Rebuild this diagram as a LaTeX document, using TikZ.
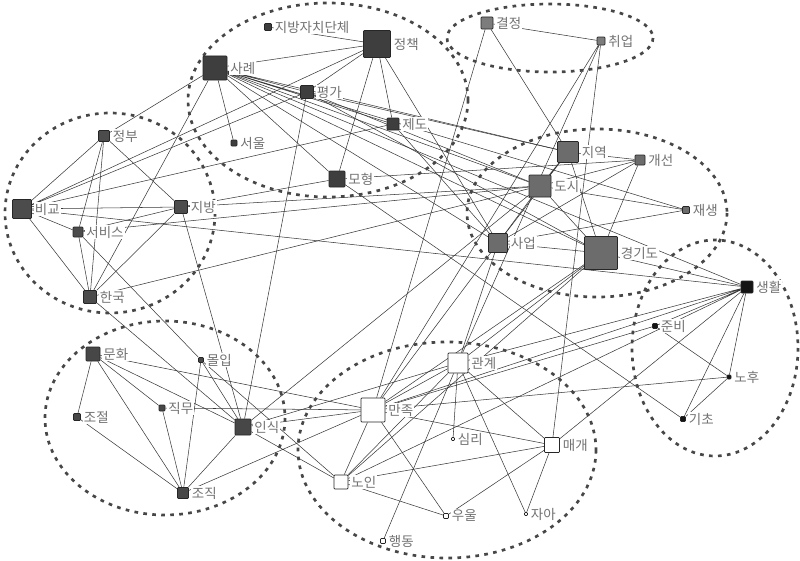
\documentclass[tikz,border=0pt]{standalone}
\usepackage{fontspec}
\setmainfont{Noto Sans CJK KR}
\usetikzlibrary{backgrounds}
\definecolor{policydark}{HTML}{3E3E3E}
\definecolor{compdark}{HTML}{4C4C4C}
\definecolor{orgdark}{HTML}{474747}
\definecolor{citygray}{HTML}{6C6C6C}
\definecolor{jobgray}{HTML}{7C7C7C}
\definecolor{lifeblack}{HTML}{141414}
\definecolor{labelgray}{HTML}{727272}

\begin{document}
\begin{tikzpicture}[
    x=0.03cm, y=-0.03cm,
    term/.style={draw=black!85, line width=0.65pt, rounded corners=0.25mm, inner sep=0pt, minimum size=#1*0.3mm},
    policy/.style={fill=policydark},
    comp/.style={fill=compdark},
    org/.style={fill=orgdark},
    city/.style={fill=citygray},
    job/.style={fill=jobgray},
    life/.style={fill=lifeblack},
    elder/.style={fill=white},
    edge/.style={draw=black!78, line width=0.45pt},
    group/.style={draw=black!72, line width=2.3pt, dash pattern=on 1.1mm off 1.6mm},
    every label/.style={text=labelgray, fill=white, font=\fontsize{11.5}{13}\selectfont, inner sep=0.35mm},
    label distance=0.5mm
]
\useasboundingbox (0,0) rectangle (800,561);

% policy cluster
\node[term=7, policy, label=right:지방자치단체] (jachi) at (268,27) {};
\node[term=27, policy, label=right:정책] (jeongchaek) at (377,44) {};
\node[term=24, policy, label=right:사례] (sarye) at (215,68) {};
\node[term=13, policy, label=right:평가] (pyeongga) at (307,92) {};
\node[term=6, policy, label=right:서울] (seoul) at (234,143) {};
\node[term=12, policy, label=right:제도] (jedo) at (393,124) {};
\node[term=16, policy, label=right:모형] (mohyeong) at (337,179) {};

% job cluster
\node[term=12, job, label=right:결정] (gyeoljeong) at (487,23) {};
\node[term=8, job, label=right:취업] (chwieop) at (601,41) {};

% comparison cluster
\node[term=11, comp, label=right:정부] (jeongbu) at (104,136) {};
\node[term=19, comp, label=right:비교] (bigyo) at (22,209) {};
\node[term=13, comp, label=right:지방] (jibang) at (181,207) {};
\node[term=10, comp, label=right:서비스] (service) at (78,232) {};
\node[term=13, comp, label=right:한국] (hanguk) at (90,297) {};

% city cluster
\node[term=21, city, label=right:지역] (jiyeok) at (568,152) {};
\node[term=10, city, label=right:개선] (gaeseon) at (640,160) {};
\node[term=22, city, label=right:도시] (dosi) at (540,186) {};
\node[term=7, city, label=right:재생] (jaesaeng) at (686,210) {};
\node[term=19, city, label=right:사업] (saeop) at (498,243) {};
\node[term=33, city, label=right:경기도] (gyeonggi) at (601,253) {};

% life cluster
\node[term=12, life, label=right:생활] (saenghwal) at (747,287) {};
\node[term=5, life, label=right:준비] (junbi) at (655,326) {};
\node[term=4, life, label=right:노후] (nohu) at (729,377) {};
\node[term=5, life, label=right:기초] (gicho) at (683,419) {};

% organisation cluster
\node[term=14, org, label=right:문화] (munhwa) at (93,354) {};
\node[term=5, org, label=right:몰입] (molip) at (201,360) {};
\node[term=7, org, label=right:조절] (jojeol) at (77,417) {};
\node[term=6, org, label=right:직무] (jikmu) at (162,408) {};
\node[term=16, org, label=right:인식] (insik) at (243,427) {};
\node[term=11, org, label=right:조직] (jojik) at (183,493) {};

% elderly cluster
\node[term=20, elder, label=right:관계] (gwangye) at (458,363) {};
\node[term=24, elder, label=right:만족] (manjok) at (373,410) {};
\node[term=3, elder, label=right:심리] (simri) at (453,439) {};
\node[term=15, elder, label=right:매개] (maegae) at (552,445) {};
\node[term=14, elder, label=right:노인] (noin) at (341,482) {};
\node[term=5, elder, label=right:우울] (uul) at (446,516) {};
\node[term=3, elder, label=right:자아] (jaa) at (526,514) {};
\node[term=5, elder, label=right:행동] (haengdong) at (383,541) {};

\begin{scope}[on background layer]
\draw[edge] (sarye) -- (jeongchaek) (sarye) -- (pyeongga) (sarye) -- (jedo) (sarye) -- (seoul) (sarye) -- (mohyeong)
  (sarye) -- (jeongbu) (sarye) -- (hanguk) (sarye) -- (jiyeok) (sarye) -- (dosi) (sarye) -- (gyeonggi)
  (sarye) -- (saeop) (sarye) -- (jaesaeng) (sarye) -- (saenghwal);
\draw[edge] (jeongchaek) -- (pyeongga) (jeongchaek) -- (jedo) (jeongchaek) -- (mohyeong) (jeongchaek) -- (jachi) (jeongchaek) -- (saeop);
\draw[edge] (pyeongga) -- (jiyeok) (pyeongga) -- (dosi) (pyeongga) -- (gyeonggi) (pyeongga) -- (insik);
\draw[edge] (jedo) -- (saeop) (mohyeong) -- (gicho) (mohyeong) -- (gaeseon);
\draw[edge] (bigyo) -- (jeongchaek) (bigyo) -- (pyeongga) (bigyo) -- (jedo) (bigyo) -- (saenghwal)
  (bigyo) -- (jeongbu) (bigyo) -- (jibang) (bigyo) -- (service) (bigyo) -- (hanguk);
\draw[edge] (jeongbu) -- (service) (jeongbu) -- (hanguk) (jeongbu) -- (jibang);
\draw[edge] (jibang) -- (service) (jibang) -- (hanguk) (jibang) -- (mohyeong) (jibang) -- (insik) (jibang) -- (dosi);
\draw[edge] (service) -- (hanguk) (service) -- (dosi) (service) -- (molip) (hanguk) -- (dosi) (hanguk) -- (insik);
\draw[edge] (jiyeok) -- (gaeseon) (jiyeok) -- (dosi) (jiyeok) -- (gyeonggi) (jiyeok) -- (saeop);
\draw[edge] (dosi) -- (gaeseon) (dosi) -- (jaesaeng) (dosi) -- (saeop) (dosi) -- (gyeonggi) (dosi) -- (insik);
\draw[edge] (saeop) -- (jaesaeng) (saeop) -- (gyeonggi) (saeop) -- (gaeseon) (saeop) -- (gwangye) (saeop) -- (manjok);
\draw[edge] (gyeonggi) -- (gaeseon) (gyeonggi) -- (saenghwal) (gyeonggi) -- (manjok) (gyeonggi) -- (gwangye) (gyeonggi) -- (noin);
\draw[edge] (gyeoljeong) -- (jiyeok) (gyeoljeong) -- (chwieop) (gyeoljeong) -- (manjok);
\draw[edge] (chwieop) -- (maegae) (chwieop) -- (gwangye) (chwieop) -- (manjok);
\draw[edge] (saenghwal) -- (junbi) (saenghwal) -- (nohu) (saenghwal) -- (gicho) (saenghwal) -- (gwangye)
  (saenghwal) -- (manjok) (saenghwal) -- (noin) (saenghwal) -- (maegae);
\draw[edge] (junbi) -- (nohu) (junbi) -- (manjok) (nohu) -- (gicho) (nohu) -- (manjok);
\draw[edge] (munhwa) -- (jojeol) (munhwa) -- (jikmu) (munhwa) -- (jojik) (munhwa) -- (insik) (munhwa) -- (manjok);
\draw[edge] (jojeol) -- (jojik) (jikmu) -- (jojik) (jikmu) -- (manjok);
\draw[edge] (molip) -- (jojik) (molip) -- (insik) (molip) -- (noin);
\draw[edge] (insik) -- (jojik) (insik) -- (manjok) (insik) -- (noin) (insik) -- (gwangye) (jojik) -- (manjok);
\draw[edge] (gwangye) -- (manjok) (gwangye) -- (simri) (gwangye) -- (maegae) (gwangye) -- (jaa) (gwangye) -- (noin) (gwangye) -- (haengdong);
\draw[edge] (manjok) -- (noin) (manjok) -- (uul) (manjok) -- (maegae);
\draw[edge] (noin) -- (maegae) (noin) -- (uul) (maegae) -- (uul) (maegae) -- (jaa);

% cluster outlines
\draw[group] (328,100) ellipse [x radius=140, y radius=97];
\draw[group] (550,38) ellipse [x radius=103, y radius=34];
\draw[group] (110,213) ellipse [x radius=105, y radius=100];
\draw[group] (597,213) ellipse [x radius=130, y radius=84];
\draw[group] (715,348) ellipse [x radius=83, y radius=108];
\draw[group] (165,418) ellipse [x radius=120, y radius=97];
\draw[group] (447,450) ellipse [x radius=149, y radius=108];
\end{scope}
\end{tikzpicture}
\end{document}
